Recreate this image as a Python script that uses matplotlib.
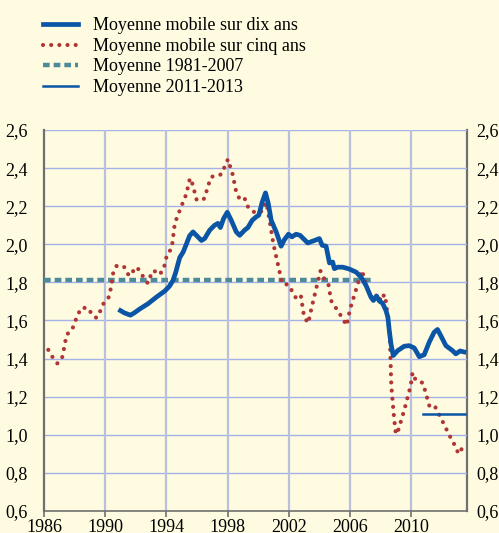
import matplotlib
matplotlib.use('Agg')
import matplotlib.pyplot as plt
import numpy as np

# moyenne mobile sur dix ans
dix_x = [1991.0, 1991.25, 1991.65, 1991.9, 1992.25, 1992.8, 1993.35, 1993.9, 1994.2, 1994.43,
         1994.6, 1994.87, 1995.1, 1995.3, 1995.52, 1995.74, 1995.96, 1996.29, 1996.5, 1996.83,
         1997.15, 1997.37, 1997.53, 1997.74, 1997.98, 1998.24, 1998.57, 1998.79, 1999.11, 1999.33,
         1999.61, 1999.87, 2000.04, 2000.27, 2000.48, 2000.66, 2000.85, 2001.18, 2001.5, 2001.72,
         2001.98, 2002.2, 2002.48, 2002.74, 2003.24, 2003.68, 2004.0, 2004.18, 2004.44, 2004.66,
         2004.87, 2004.98, 2005.2, 2005.53, 2005.96, 2006.4, 2006.72, 2007.05, 2007.37, 2007.53,
         2007.74, 2007.92, 2008.13, 2008.35, 2008.48, 2008.57, 2008.68, 2008.83, 2009.12, 2009.55,
         2009.87, 2010.2, 2010.53, 2010.85, 2011.18, 2011.5, 2011.72, 2011.94, 2012.27, 2012.7,
         2012.92, 2013.2, 2013.45]
dix_y = [1.652, 1.64, 1.628, 1.64, 1.66, 1.688, 1.723, 1.755, 1.78, 1.81,
         1.85, 1.93, 1.96, 2.0, 2.045, 2.065, 2.047, 2.02, 2.03, 2.074,
         2.1, 2.11, 2.088, 2.135, 2.168, 2.126, 2.065, 2.047, 2.074, 2.088,
         2.126, 2.144, 2.153, 2.223, 2.27, 2.214, 2.126, 2.065, 1.99, 2.025,
         2.053, 2.039, 2.053, 2.047, 2.007, 2.02, 2.03, 1.995, 1.99, 1.902,
         1.907, 1.872, 1.88, 1.88, 1.87, 1.854, 1.828, 1.784, 1.723, 1.705,
         1.728, 1.702, 1.691, 1.653, 1.617, 1.547, 1.477, 1.416, 1.442, 1.465,
         1.468, 1.456, 1.41, 1.42, 1.486, 1.538, 1.553, 1.52, 1.468, 1.442,
         1.425, 1.44, 1.435]

# moyenne mobile sur cinq ans
cinq_x = [1986.28, 1986.54, 1986.87, 1987.17, 1987.3, 1987.48, 1987.83, 1988.2, 1988.46, 1988.9,
          1989.17, 1989.43, 1989.7, 1989.91, 1990.24, 1990.4, 1990.52, 1990.74, 1991.22, 1991.46,
          1991.67, 1991.96, 1992.2, 1992.48, 1992.78, 1992.94, 1993.18, 1993.5, 1993.8, 1994.04,
          1994.35, 1994.55, 1994.9, 1995.3, 1995.54, 1995.7, 1995.98, 1996.18, 1996.48, 1996.76,
          1996.94, 1997.59, 1998.02, 1998.33, 1998.55, 1998.77, 1999.1, 1999.26, 1999.59, 2000.0,
          2000.33, 2000.53, 2000.63, 2001.0, 2001.57, 2001.98, 2002.5, 2002.79, 2003.0, 2003.27,
          2003.5, 2004.07, 2004.29, 2004.59, 2004.77, 2005.33, 2005.79, 2006.0, 2006.78, 2007.1,
          2007.28, 2007.55, 2007.8, 2008.03, 2008.24, 2008.35, 2008.6, 2008.7, 2008.88, 2009.0,
          2009.1, 2009.55, 2009.97, 2010.09, 2010.29, 2010.77, 2011.2, 2011.53, 2012.0, 2012.48,
          2012.92, 2013.09, 2013.4]
cinq_y = [1.446, 1.41, 1.375, 1.4, 1.45, 1.526, 1.55, 1.63, 1.667, 1.665,
          1.626, 1.614, 1.653, 1.693, 1.723, 1.78, 1.847, 1.886, 1.884, 1.845,
          1.835, 1.88, 1.868, 1.83, 1.796, 1.83, 1.863, 1.84, 1.863, 1.946,
          1.979, 2.11, 2.184, 2.263, 2.347, 2.318, 2.233, 2.23, 2.24, 2.315,
          2.354, 2.367, 2.446, 2.367, 2.28, 2.24, 2.246, 2.204, 2.174, 2.162,
          2.18, 2.22, 2.18, 2.0, 1.793, 1.788, 1.714, 1.73, 1.62, 1.586,
          1.67, 1.86, 1.823, 1.79, 1.704, 1.635, 1.574, 1.658, 1.863, 1.776,
          1.74, 1.709, 1.74, 1.702, 1.737, 1.7, 1.53, 1.26, 1.09, 1.004,
          1.009, 1.13, 1.258, 1.326, 1.288, 1.272, 1.149, 1.153, 1.079, 1.0,
          0.935, 0.9, 0.937]

# moyennes de periode
moy_8107 = 1.81
moy_8107_x = [1986, 2007.45]
moy_1113 = 1.11
moy_1113_x = [2010.75, 2013.5]

xticks = [1986, 1990, 1994, 1998, 2002, 2006, 2010]
yticks = [0.6, 0.8, 1.0, 1.2, 1.4, 1.6, 1.8, 2.0, 2.2, 2.4, 2.6]
ylabels = ['0,6', '0,8', '1,0', '1,2', '1,4', '1,6', '1,8', '2,0', '2,2', '2,4', '2,6']

bg = '#fefbe0'
plt.rcParams['font.family'] = ['Liberation Serif', 'DejaVu Serif']

fig = plt.figure(figsize=(4.99, 5.33), dpi=100, facecolor=bg)
ax = fig.add_axes([44/499, 1 - 511/533, (467-44)/499, (511-130)/533])
ax.set_facecolor(bg)

# grille
for y in yticks[1:]:
    ax.axhline(y, color='#a3b2e8', lw=1.0, zorder=1)
for x in xticks[1:]:
    ax.axvline(x, color='#b9c0dc', lw=1.6, zorder=1)

ax.plot(moy_8107_x, [moy_8107, moy_8107], color='#4d8a9a', lw=3.2,
        linestyle=(0, (1.5, 0.9)), solid_capstyle='butt', zorder=3,
        label='Moyenne 1981-2007')
ax.plot(cinq_x, cinq_y, color='#b03535', lw=3.0, linestyle=(0, (0.01, 1.95)),
        dash_capstyle='round', zorder=4, label='Moyenne mobile sur cinq ans')
ax.plot(dix_x, dix_y, color='#0a55a5', lw=3.4, solid_joinstyle='round', zorder=5,
        label='Moyenne mobile sur dix ans')
ax.plot(moy_1113_x, [moy_1113, moy_1113], color='#0a55a5', lw=1.8, zorder=5,
        label='Moyenne 2011-2013')

ax.set_xlim(1986, 2013.65)
ax.set_ylim(0.6, 2.6)
ax.set_xticks(xticks)
ax.set_yticks(yticks)
ax.set_yticklabels(ylabels)
ax.tick_params(axis='x', direction='out', length=4, width=1.2, color='#707070',
               labelsize=13, pad=1.5)
ax.tick_params(axis='y', left=False, labelsize=13, pad=8)

# axe de droite
secax = ax.secondary_yaxis('right')
secax.set_yticks(yticks)
secax.set_yticklabels(ylabels)
secax.tick_params(axis='y', right=False, labelsize=13, pad=3)
secax.spines['right'].set_color('#6f6f6f')
secax.spines['right'].set_linewidth(1.6)

ax.spines['left'].set_color('#6f6f6f')
ax.spines['left'].set_linewidth(1.6)
ax.spines['right'].set_visible(False)
ax.spines['bottom'].set_color('#707070')
ax.spines['bottom'].set_linewidth(1.2)
ax.spines['top'].set_visible(False)

handles, labels = ax.get_legend_handles_labels()
order = [2, 1, 0, 3]
fig.legend([handles[i] for i in order], [labels[i] for i in order],
           loc='upper left', bbox_to_anchor=(36/499, 1 - 10/533), frameon=False,
           fontsize=13, handlelength=1.9, handletextpad=0.85, labelspacing=0.2,
           borderaxespad=0)

fig.savefig('out.png', dpi=100, facecolor=bg)
